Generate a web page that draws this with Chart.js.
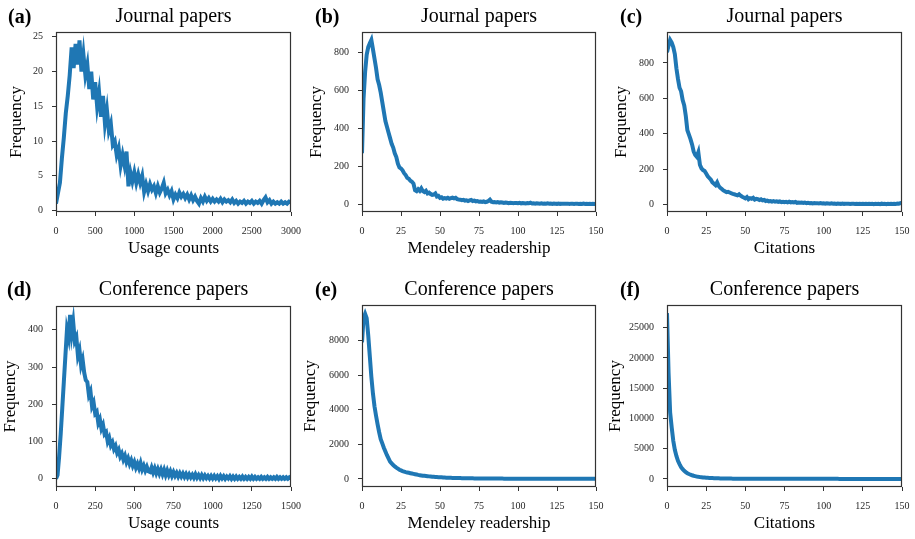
<!DOCTYPE html>
<html>
<head>
<meta charset="utf-8">
<script src="https://cdn.jsdelivr.net/npm/chart.js"></script>
<style>
  body { margin: 0; background: #fff; }
  #fig { position: relative; width: 915px; height: 539px; overflow: hidden;
         font-family: "Liberation Serif", "Times New Roman", serif; color: #000; }
  #fig canvas { position: absolute; }
  .title { position: absolute; font-size: 20px; transform: translate(-50%, -50%); white-space: nowrap; }
  .tag { position: absolute; font-size: 20px; font-weight: bold; transform: translateY(-50%); }
</style>
</head>
<body>
<div id="fig"></div>
<script>
// (a) journal papers, usage counts, bins of 25
const journalUsage = [
  1.0, 2.5, 4.0, 7.5, 10.5, 14.0, 16.5, 19.5, 23.5, 20.5,
  24.0, 21.0, 24.5, 20.0, 22.5, 19.5, 21.0, 17.5, 20.0, 16.0,
  18.5, 15.0, 17.0, 13.5, 16.5, 12.5, 14.5, 11.5, 12.5, 9.5,
  10.0, 8.0, 9.0, 6.5, 8.0, 6.5, 8.5, 3.5, 5.5, 4.2,
  5.5, 4.0, 5.2, 4.0, 5.0, 2.7, 3.8, 2.8, 3.8, 3.0,
  3.5, 2.5, 3.5, 2.6, 3.2, 4.0, 2.5, 3.0, 2.2, 2.8,
  1.6, 2.3, 1.8, 2.6, 2.0, 2.4, 1.8, 2.3, 1.6, 2.2,
  1.5, 2.0, 1.4, 1.0, 1.8, 1.3, 2.0, 1.4, 1.8, 1.3,
  1.7, 1.3, 1.6, 1.3, 1.7, 1.2, 1.6, 1.3, 1.5, 1.2,
  1.6, 1.1, 1.4, 1.0, 1.3, 1.1, 1.4, 1.0, 1.3, 1.1,
  1.4, 1.0, 1.3, 1.1, 1.4, 1.0, 1.5, 1.9, 1.2, 1.5,
  1.0, 1.3, 1.0, 1.2, 1.0, 1.3, 1.0, 1.2, 1.0, 1.3,
  1.2
];

// (b) journal papers, Mendeley readership 0..150
const journalReaders = [
  270, 560, 700, 790, 830, 850, 868, 820, 770, 720,
  660, 630, 590, 540, 490, 440, 410, 380, 350, 320,
  300, 270, 250, 215, 195, 190, 180, 165, 155, 140,
  135, 125, 120, 110, 75, 70, 80, 72, 85, 70,
  65, 72, 58, 62, 55, 50, 52, 58, 42, 45,
  35, 38, 30, 33, 31, 35, 30, 33, 36, 32,
  35, 28, 26, 25, 22, 24, 20, 22, 18, 21,
  24, 18, 20, 16, 18, 14, 15, 13, 16, 12,
  14, 18, 25, 14, 12, 13, 10, 12, 9, 11,
  10, 8, 10, 9, 7, 9, 8, 6, 8, 7,
  6, 8, 5, 7, 6, 5, 7, 6, 9, 5,
  6, 4, 6, 5, 4, 6, 4, 5, 4, 6,
  4, 5, 3, 5, 4, 3, 5, 3, 4, 3,
  4, 3, 4, 2, 4, 3, 2, 4, 3, 2,
  3, 2, 4, 2, 3, 2, 3, 2, 3, 2,
  3
];

// (c) journal papers, citations 0..150
const journalCites = [
  860, 900, 930, 915, 890, 850, 770, 710, 660, 640,
  590, 560, 500, 420, 395, 370, 340, 300, 280, 270,
  295, 225, 205, 195, 190, 175, 160, 150, 140, 125,
  118, 110, 125, 105, 95, 88, 80, 75, 70, 72,
  68, 64, 60, 58, 55, 52, 58, 50, 44, 40,
  35, 42, 30, 36, 33, 38, 28, 32, 30, 26,
  30, 24, 26, 20, 22, 18, 20, 17, 20, 16,
  18, 15, 18, 14, 16, 13, 15, 12, 16, 12,
  14, 12, 15, 10, 12, 10, 11, 9, 11, 8,
  10, 8, 9, 7, 9, 7, 8, 6, 8, 6,
  7, 5, 7, 6, 5, 7, 5, 6, 4, 6,
  5, 4, 6, 4, 5, 4, 5, 3, 5, 4,
  3, 5, 3, 4, 3, 5, 3, 4, 3, 5,
  3, 4, 2, 4, 3, 4, 2, 5, 3, 4,
  2, 4, 3, 4, 3, 5, 3, 6, 5, 8,
  10
];

// (d) conference papers, usage counts, bins of 10
const confUsage = [
  0, 10, 60, 120, 190, 260, 330, 400, 380, 440,
  390, 420, 370, 380, 330, 345, 305, 320, 285, 265,
  260, 225, 235, 195, 205, 175, 180, 150, 160, 135,
  145, 120, 125, 100, 110, 90, 98, 80, 88, 70,
  78, 60, 68, 52, 62, 45, 55, 40, 50, 35,
  45, 30, 40, 28, 42, 25, 35, 22, 32, 20,
  18, 30, 17, 28, 15, 26, 14, 25, 12, 24,
  10, 22, 10, 20, 8, 18, 8, 16, 6, 15,
  6, 14, 5, 13, 4, 12, 4, 11, 3, 12,
  3, 10, 2, 10, 2, 9, 2, 8, 1, 8,
  1, 8, 1, 7, 0, 8, 1, 7, 0, 6,
  1, 7, 0, 6, 0, 6, 0, 5, 0, 6,
  0, 5, 0, 5, 0, 6, 0, 5, 0, 4,
  0, 5, 0, 4, 0, 5, 0, 4, 0, 4,
  0, 5, 0, 4, 0, 4, 0, 4, 0, 4,
  1
];

// (e) conference papers, Mendeley readership 0..150
const confReaders = [
  7900, 9300, 9550, 9300, 8300, 7100, 5900, 4950, 4200, 3650,
  3150, 2700, 2300, 2050, 1800, 1580, 1370, 1180, 1000, 900,
  800, 720, 650, 590, 530, 490, 450, 420, 390, 370,
  350, 330, 310, 290, 270, 250, 230, 215, 200, 185,
  175, 165, 155, 145, 135, 125, 118, 110, 105, 100,
  95, 88, 82, 78, 72, 68, 64, 60, 57, 54,
  52, 49, 46, 44, 42, 40, 38, 36, 35, 33,
  32, 30, 29, 28, 27, 26, 25, 24, 23, 22,
  21, 20, 20, 19, 18, 18, 17, 16, 16, 15,
  15, 14, 14, 13, 13, 12, 12, 12, 11, 11,
  10, 10, 10, 9, 9, 9, 9, 8, 8, 8,
  8, 8, 7, 7, 7, 7, 7, 7, 6, 6,
  6, 6, 6, 6, 6, 5, 5, 5, 5, 5,
  5, 5, 5, 5, 4, 4, 4, 4, 4, 4,
  4, 4, 4, 4, 4, 4, 3, 3, 3, 3,
  3
];

// (f) conference papers, citations 0..150
const confCites = [
  27400, 17500, 11000, 8500, 6300, 4800, 3800, 3000, 2450, 1950,
  1600, 1330, 1100, 930, 800, 690, 600, 520, 450, 390,
  340, 300, 270, 240, 215, 195, 175, 160, 145, 130,
  120, 110, 100, 92, 84, 77, 70, 65, 60, 55,
  51, 47, 44, 41, 38, 36, 33, 31, 29, 27,
  26, 24, 23, 22, 21, 20, 19, 18, 17, 16,
  15, 15, 14, 13, 13, 12, 12, 11, 11, 10,
  10, 10, 9, 9, 9, 8, 8, 8, 8, 7,
  7, 7, 7, 7, 6, 6, 6, 6, 6, 6,
  5, 5, 5, 5, 5, 5, 5, 5, 4, 4,
  4, 4, 4, 4, 4, 4, 4, 4, 4, 4,
  3, 3, 3, 3, 3, 3, 3, 3, 3, 3,
  3, 3, 3, 3, 3, 3, 3, 3, 2, 2,
  2, 2, 2, 2, 2, 2, 2, 2, 2, 2,
  2, 2, 2, 2, 2, 2, 2, 2, 2, 2,
  2
];

const xTicksUsageJ = [0, 500, 1000, 1500, 2000, 2500, 3000];
const xTicksUsageC = [0, 250, 500, 750, 1000, 1250, 1500];
const xTicks150 = [0, 25, 50, 75, 100, 125, 150];
const yTicksA = [0, 5, 10, 15, 20, 25];
const yTicksB = [0, 200, 400, 600, 800];
const yTicksC = [0, 200, 400, 600, 800];
const yTicksD = [0, 100, 200, 300, 400];
const yTicksE = [0, 2000, 4000, 6000, 8000];
const yTicksF = [0, 5000, 10000, 15000, 20000, 25000];

const SERIF = '"Liberation Serif", "Times New Roman", serif';
const BLUE = '#1f77b4';

const panels = [
  { tag: '(a)', title: 'Journal papers', xLabel: 'Usage counts', ys: journalUsage, step: 25,
    xMax: 3000, xTicks: xTicksUsageJ, yMin: -0.2, yMax: 25.7, yTicks: yTicksA,
    box: [56, 32, 291, 212], yw: 50, tagX: 8, titleY: 15 },
  { tag: '(b)', title: 'Journal papers', xLabel: 'Mendeley readership', ys: journalReaders, step: 1,
    xMax: 150, xTicks: xTicks150, yMin: -40, yMax: 910, yTicks: yTicksB,
    box: [362, 32, 596, 212], yw: 56, tagX: 315, titleY: 15 },
  { tag: '(c)', title: 'Journal papers', xLabel: 'Citations', ys: journalCites, step: 1,
    xMax: 150, xTicks: xTicks150, yMin: -42, yMax: 975, yTicks: yTicksC,
    box: [667, 32, 902, 212], yw: 56, tagX: 620, titleY: 15 },
  { tag: '(d)', title: 'Conference papers', xLabel: 'Usage counts', ys: confUsage, step: 10,
    xMax: 1500, xTicks: xTicksUsageC, yMin: -22, yMax: 464, yTicks: yTicksD,
    box: [56, 306, 291, 487], yw: 56, tagX: 7, titleY: 288 },
  { tag: '(e)', title: 'Conference papers', xLabel: 'Mendeley readership', ys: confReaders, step: 1,
    xMax: 150, xTicks: xTicks150, yMin: -470, yMax: 10060, yTicks: yTicksE,
    box: [362, 305, 596, 487], yw: 62, tagX: 315, titleY: 288 },
  { tag: '(f)', title: 'Conference papers', xLabel: 'Citations', ys: confCites, step: 1,
    xMax: 150, xTicks: xTicks150, yMin: -1340, yMax: 28750, yTicks: yTicksF,
    box: [667, 305, 902, 487], yw: 62, tagX: 620, titleY: 288 }
];

const frame = {
  id: 'frame',
  afterDatasetsDraw(chart) {
    const a = chart.chartArea;
    const ctx = chart.ctx;
    ctx.save();
    ctx.strokeStyle = '#333';
    ctx.lineWidth = 1.2;
    ctx.strokeRect(a.left + 0.5, a.top + 0.5, a.right - a.left - 1, a.bottom - a.top - 1);
    ctx.restore();
  }
};

const fig = document.getElementById('fig');
const PAD_TOP = 8, PAD_RIGHT = 16, X_AXIS_H = 47;
const plain = v => String(v);

panels.forEach(p => {
  const [l, t, r, b] = p.box;
  const canvas = document.createElement('canvas');
  canvas.width = (r - l) + p.yw + PAD_RIGHT;
  canvas.height = (b - t) + PAD_TOP + X_AXIS_H;
  canvas.style.left = (l - p.yw) + 'px';
  canvas.style.top = (t - PAD_TOP) + 'px';
  fig.appendChild(canvas);

  const title = document.createElement('div');
  title.className = 'title';
  title.textContent = p.title;
  title.style.left = ((l + r) / 2) + 'px';
  title.style.top = p.titleY + 'px';
  fig.appendChild(title);

  const tag = document.createElement('div');
  tag.className = 'tag';
  tag.textContent = p.tag;
  tag.style.left = p.tagX + 'px';
  tag.style.top = (p.titleY + 1) + 'px';
  fig.appendChild(tag);

  const xs = p.ys.map((_, i) => i * p.step);

  new Chart(canvas, {
    type: 'line',
    data: {
      datasets: [{
        data: xs.map((x, i) => ({ x: x, y: p.ys[i] })),
        borderColor: BLUE,
        borderWidth: 4,
        pointRadius: 0,
        tension: 0,
        fill: false
      }]
    },
    options: {
      responsive: false,
      animation: false,
      events: [],
      layout: { padding: { top: PAD_TOP, right: PAD_RIGHT, left: 0, bottom: 0 } },
      plugins: { legend: { display: false }, tooltip: { enabled: false } },
      scales: {
        x: {
          type: 'linear', min: 0, max: p.xMax,
          afterBuildTicks: s => { s.ticks = p.xTicks.map(v => ({ value: v })); },
          afterFit: s => { s.height = X_AXIS_H; s.paddingLeft = 0; s.paddingRight = 0; },
          border: { display: false },
          grid: { drawOnChartArea: false, drawTicks: true, tickLength: 4, color: '#333' },
          ticks: { maxRotation: 0, autoSkip: false, padding: 9, color: '#262626',
                   callback: plain, font: { family: SERIF, size: 10 } },
          title: { display: true, text: p.xLabel, color: '#000', padding: 0,
                   font: { family: SERIF, size: 17 } }
        },
        y: {
          type: 'linear', min: p.yMin, max: p.yMax,
          afterBuildTicks: s => { s.ticks = p.yTicks.map(v => ({ value: v })); },
          afterFit: s => { s.width = p.yw; s.paddingTop = 0; s.paddingBottom = 0; },
          border: { display: false },
          grid: { drawOnChartArea: false, drawTicks: true, tickLength: 4, color: '#333' },
          ticks: { padding: 9, color: '#262626', callback: plain,
                   font: { family: SERIF, size: 10 } },
          title: { display: true, text: 'Frequency', color: '#000', padding: 0,
                   font: { family: SERIF, size: 17 } }
        }
      }
    },
    plugins: [frame]
  });
});
</script>
</body>
</html>
